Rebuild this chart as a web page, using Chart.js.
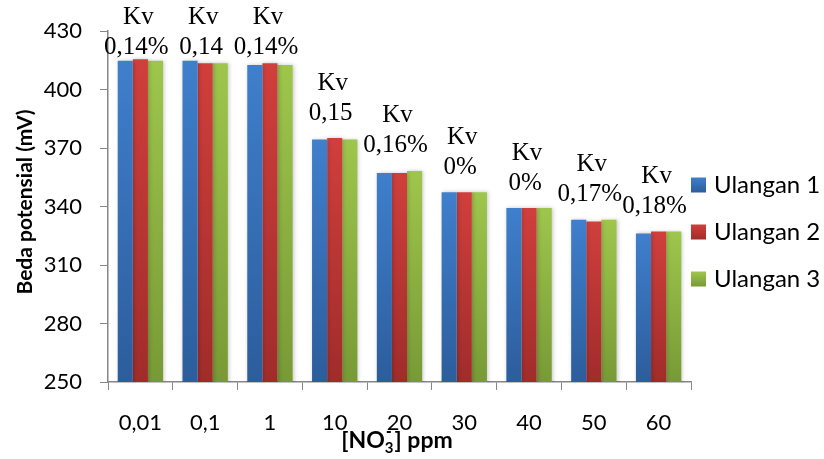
<!DOCTYPE html>
<html>
<head>
<meta charset="utf-8">
<script src="https://cdn.jsdelivr.net/npm/chart.js@4"></script>
<style>
  html, body { margin: 0; padding: 0; background: #fff; }
  #wrap { width: 824px; height: 459px; }
</style>
</head>
<body>
<div id="wrap"><canvas id="grafikBeda" width="824" height="459"></canvas></div>
<script>
const categories = ['0,01', '0,1', '1', '10', '20', '30', '40', '50', '60'];
const ulangan1 = [414.8, 414.8, 412.6, 374.4, 357.3, 347.3, 339.3, 333.3, 326.2];
const ulangan2 = [415.6, 413.5, 413.5, 375.2, 357.3, 347.3, 339.3, 332.3, 327.2];
const ulangan3 = [414.8, 413.5, 412.6, 374.4, 358.3, 347.3, 339.3, 333.3, 327.2];
const kvLabels = ['0,14%', '0,14', '0,14%', '0,15', '0,16%', '0%', '0%', '0,17%', '0,18%'];
const seriesNames = ['Ulangan 1', 'Ulangan 2', 'Ulangan 3'];
const yMin = 250, yMax = 430, yStep = 30;

const colors = [
  ['#3f7fcc', '#2c5d9c'],
  ['#d03f3c', '#a02c2a'],
  ['#9ec64c', '#789a36']
];

function barFill(top, bottom) {
  return (c) => {
    const ch = c.chart;
    const y = ch.scales.y;
    if (!y || c.raw == null) return top;
    const y0 = y.getPixelForValue(c.raw);
    const y1 = y.bottom;
    if (!isFinite(y0) || !isFinite(y1) || y1 <= y0) return top;
    const g = ch.ctx.createLinearGradient(0, y0, 0, y1);
    g.addColorStop(0, top);
    g.addColorStop(1, bottom);
    return g;
  };
}

const sansFont = 'Lato, "Open Sans", sans-serif';

const extras = {
  id: 'extras',
  beforeDatasetsDraw(chart) {
    const ctx = chart.ctx;
    ctx.save();
    ctx.shadowColor = 'rgba(0,0,0,0.22)';
    ctx.shadowBlur = 4;
    ctx.shadowOffsetX = 1;
  },
  afterDatasetsDraw(chart) {
    const ctx = chart.ctx;
    ctx.restore();
    const x = chart.scales.x, y = chart.scales.y;

    // Kv labels above each group
    ctx.save();
    ctx.fillStyle = '#000';
    ctx.font = '25px "Liberation Serif", "Times New Roman", serif';
    ctx.textAlign = 'center';
    ctx.textBaseline = 'middle';
    categories.forEach((cat, i) => {
      const top = y.getPixelForValue(Math.max(ulangan1[i], ulangan2[i], ulangan3[i]));
      const cx = x.getPixelForValue(i) - 3;
      const vy = Math.max(top - 25, 47);
      ctx.fillText('Kv', cx + 1, vy - 30);
      ctx.fillText(kvLabels[i], cx - 1, vy);
    });
    ctx.restore();
  },
  afterDraw(chart) {
    const ctx = chart.ctx;
    ctx.save();
    ctx.fillStyle = '#000';

    // y axis title
    ctx.font = 'bold 21px ' + sansFont;
    ctx.textAlign = 'center';
    ctx.textBaseline = 'middle';
    ctx.translate(25, 202);
    ctx.rotate(-Math.PI / 2);
    ctx.fillText('Beda potensial (mV)', 0, 0);
    ctx.setTransform(1, 0, 0, 1, 0, 0);

    // x axis title: [NO3-] ppm
    const big = 'bold 23px ' + sansFont;
    const small = 'bold 15px ' + sansFont;
    ctx.textAlign = 'left';
    ctx.textBaseline = 'alphabetic';
    ctx.font = big;
    const w1 = ctx.measureText('[NO').width;
    const w3 = ctx.measureText('] ppm').width;
    ctx.font = small;
    const w2 = ctx.measureText('3').width + 1;
    let px = 397 - (w1 + w2 + w3) / 2;
    const base = 448;
    ctx.font = big; ctx.fillText('[NO', px, base); px += w1;
    ctx.font = small; ctx.fillText('3', px, base + 5);
    ctx.fillRect(px + 2, base - 17, 4, 2);
    px += w2;
    ctx.font = big; ctx.fillText('] ppm', px, base);

    // legend
    ctx.font = '24px ' + sansFont;
    ctx.textBaseline = 'middle';
    seriesNames.forEach((name, i) => {
      const cy = 185 + i * 47;
      const g = ctx.createLinearGradient(0, cy - 7.5, 0, cy + 7.5);
      g.addColorStop(0, colors[i][0]);
      g.addColorStop(1, colors[i][1]);
      ctx.fillStyle = g;
      ctx.fillRect(691, cy - 7.5, 15, 15);
      ctx.fillStyle = '#000';
      ctx.fillText(name, 714, cy);
    });
    ctx.restore();
  }
};

const ctx = document.getElementById('grafikBeda');

new Chart(ctx, {
  type: 'bar',
  data: {
    labels: categories,
    datasets: [
      { label: seriesNames[0], data: ulangan1, backgroundColor: barFill(colors[0][0], colors[0][1]) },
      { label: seriesNames[1], data: ulangan2, backgroundColor: barFill(colors[1][0], colors[1][1]) },
      { label: seriesNames[2], data: ulangan3, backgroundColor: barFill(colors[2][0], colors[2][1]) }
    ]
  },
  options: {
    responsive: false,
    devicePixelRatio: 1,
    animation: false,
    categoryPercentage: 0.7,
    barPercentage: 1.0,
    layout: { padding: { top: 23, right: 133, left: 0, bottom: 0 } },
    plugins: {
      legend: { display: false },
      tooltip: { enabled: false }
    },
    scales: {
      x: {
        afterFit(scale) { scale.height = 77; },
        grid: {
          offset: true,
          drawOnChartArea: false,
          drawTicks: true,
          tickLength: 8,
          color: '#868686'
        },
        border: { color: '#868686', width: 1.5 },
        ticks: {
          color: '#000',
          padding: 20,
          font: { family: sansFont, size: 22 }
        }
      },
      y: {
        min: yMin,
        max: yMax,
        afterFit(scale) { scale.width = 108; },
        grid: {
          drawOnChartArea: false,
          drawTicks: true,
          tickLength: 8,
          color: '#868686'
        },
        border: { color: '#868686', width: 1.5 },
        ticks: {
          stepSize: yStep,
          color: '#000',
          padding: 18,
          font: { family: sansFont, size: 22 }
        }
      }
    }
  },
  plugins: [extras]
});
</script>
</body>
</html>
